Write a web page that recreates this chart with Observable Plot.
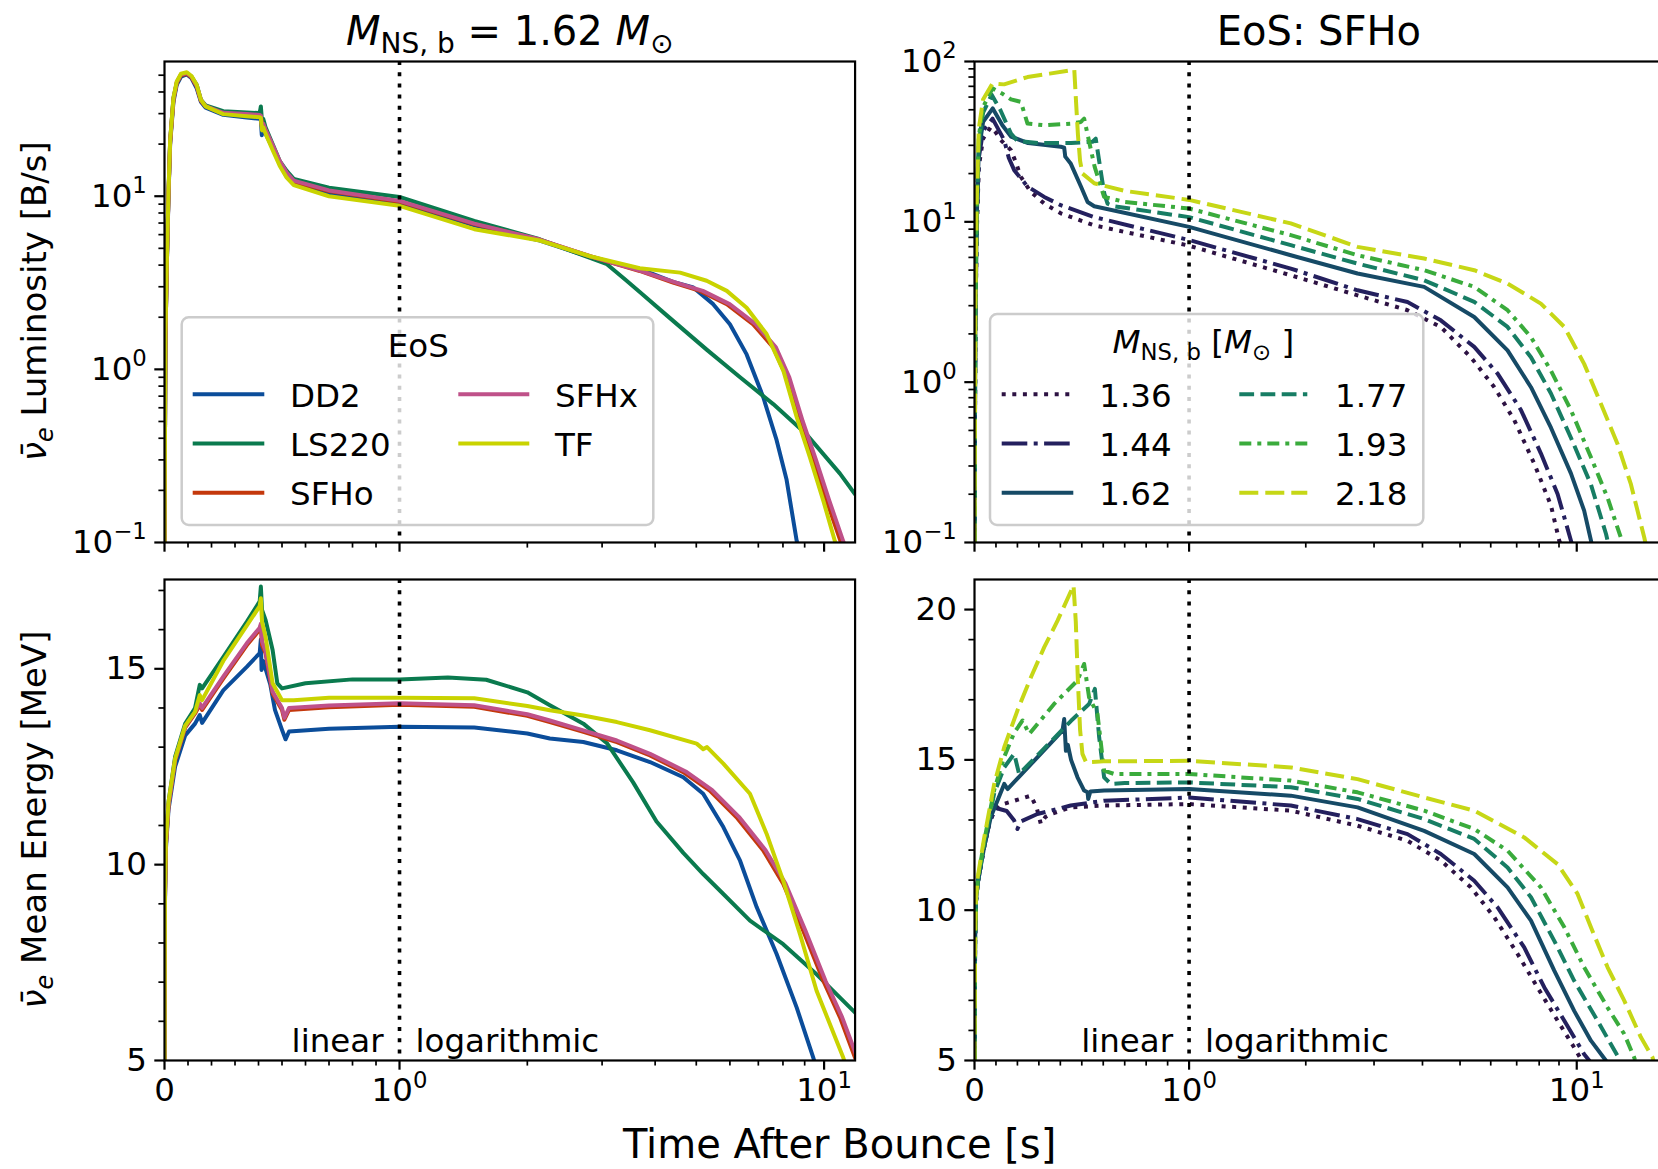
<!DOCTYPE html>
<html><head><meta charset="utf-8">
<script src="https://cdn.jsdelivr.net/npm/d3@7"></script>
<script src="https://cdn.jsdelivr.net/npm/@observablehq/plot@0.6"></script>
<style>
html,body{margin:0;padding:0;background:#fff;overflow:hidden;}
#fig{position:relative;width:1658px;height:1169px;font-family:"DejaVu Sans",sans-serif;overflow:hidden;}
#fig > svg{position:absolute;}
</style></head>
<body><div id="fig"></div>
<script>
// ---------- tick values / labels ----------
const xTickValues = [0, 1, 10];
const xTickLabels = ["0", "10⁰", "10¹"];
const xMinorTicks = [0.1,0.2,0.3,0.4,0.5,0.6,0.7,0.8,0.9,2,3,4,5,6,7,8,9];
const lumTickValues = [0.1, 1, 10, 100];
const lumTickLabels = ["10⁻¹", "10⁰", "10¹", "10²"];
const lumMinorTicks = [0.2,0.3,0.4,0.5,0.6,0.7,0.8,0.9,2,3,4,5,6,7,8,9,20,30,40,50,60,70,80,90];
const enTickValues = [5, 10, 15, 20];
const enTickLabels = ["5", "10", "15", "20"];
const enMinorTicks = [6,7,8,9,11,12,13,14,16,17,18,19];

// ---------- categories ----------
const eosNames = ["DD2", "LS220", "SFHo", "SFHx", "TF"];
const massNames = ["1.36", "1.44", "1.62", "1.77", "1.93", "2.18"];

// ---------- luminosity vs EoS [t (s), L (B/s)] ----------
const lumDD2 = [[0,0.1],[0.004,1.5],[0.01,4],[0.017,10],[0.024,20],[0.038,35],[0.052,44],[0.07,49],[0.095,50.5],[0.115,48],[0.137,42],[0.155,35],[0.175,32.5],[0.25,29.5],[0.35,28.5],[0.405,28],[0.41,27.5],[0.414,22.5],[0.42,25],[0.43,23],[0.46,19],[0.49,15.5],[0.52,13],[0.55,11.8],[0.7,10.4],[1,9.1],[1.5,6.8],[2.14,5.55],[2.81,4.45],[3.68,3.8],[4.41,3.2],[4.92,2.97],[5.48,2.38],[6.0,1.82],[6.57,1.22],[7.19,0.69],[7.73,0.39],[8.16,0.23],[8.62,0.102],[8.8,0.08]];
const lumLS220 = [[0,0.1],[0.004,1.6],[0.01,4.2],[0.017,10.5],[0.024,21],[0.038,37],[0.052,45],[0.07,50],[0.095,51],[0.115,49],[0.137,44],[0.155,36],[0.175,33.5],[0.25,31],[0.35,30.5],[0.405,30.2],[0.41,33],[0.415,27],[0.42,28],[0.43,25],[0.46,20],[0.49,16],[0.52,14],[0.55,12.6],[0.7,11.2],[1,9.9],[1.5,7.2],[2.14,5.64],[2.81,4.4],[3.08,4.05],[3.4,3.3],[3.68,2.8],[4.26,2.05],[5.29,1.3],[6.34,0.9],[7.59,0.63],[9.1,0.42],[10.9,0.25],[11.83,0.19],[12,0.18]];
const lumSFHo = [[0,0.1],[0.004,1.5],[0.01,4.1],[0.017,10.2],[0.024,20.5],[0.038,36],[0.052,45],[0.07,50],[0.095,51],[0.115,48.5],[0.137,43],[0.155,35.5],[0.175,33],[0.25,30],[0.35,29.5],[0.405,29.2],[0.41,29],[0.415,25],[0.42,26],[0.43,24],[0.46,19.5],[0.49,15.8],[0.52,13.5],[0.55,12.1],[0.7,10.7],[1,9.3],[1.5,6.9],[2.14,5.6],[2.81,4.5],[3.68,3.7],[4.41,3.17],[5.1,2.84],[5.9,2.38],[6.81,1.82],[7.59,1.34],[8.16,0.9],[8.78,0.5],[9.43,0.3],[10.14,0.174],[10.9,0.104],[11.1,0.09]];
const lumSFHx = [[0,0.1],[0.004,1.5],[0.01,4.1],[0.017,10.3],[0.024,20.7],[0.038,36.5],[0.052,45.5],[0.07,50.5],[0.095,51.5],[0.115,49],[0.137,43.5],[0.155,36],[0.175,33.2],[0.25,30.3],[0.35,29.8],[0.405,29.5],[0.41,29.2],[0.415,25.2],[0.42,26.3],[0.43,24.3],[0.46,19.8],[0.49,16],[0.52,13.7],[0.55,12.3],[0.7,10.8],[1,9.4],[1.5,6.95],[2.14,5.62],[2.81,4.5],[3.68,3.72],[4.48,3.17],[5.18,2.84],[5.99,2.38],[6.91,1.82],[7.7,1.34],[8.28,0.9],[8.91,0.5],[9.57,0.3],[10.29,0.174],[11.06,0.104],[11.3,0.09]];
const lumTF = [[0,0.1],[0.004,1.6],[0.01,4.3],[0.017,10.6],[0.024,21],[0.038,37],[0.052,46],[0.07,51],[0.095,52],[0.115,49.5],[0.137,44],[0.155,36],[0.175,33],[0.25,29.8],[0.35,29],[0.405,28.6],[0.41,28.3],[0.415,24],[0.42,25],[0.43,23],[0.46,18.5],[0.49,15],[0.52,12.8],[0.55,11.6],[0.7,10],[1,8.8],[1.5,6.45],[2.14,5.55],[2.81,4.5],[3.68,3.84],[4.58,3.62],[5.29,3.25],[5.9,2.84],[6.57,2.27],[7.32,1.6],[8.02,0.98],[8.62,0.53],[9.26,0.31],[9.96,0.174],[10.6,0.102],[10.8,0.09]];

// ---------- mean energy vs EoS [t (s), E (MeV)] ----------
const enDD2 = [[0,5],[0.002,9],[0.006,10.4],[0.017,11.4],[0.045,12.5],[0.088,13.3],[0.13,13.6],[0.15,13.82],[0.16,13.62],[0.25,14.45],[0.35,15.05],[0.405,15.4],[0.41,15.75],[0.413,14.97],[0.42,15.2],[0.45,14.6],[0.47,13.95],[0.5,13.44],[0.515,13.2],[0.53,13.4],[0.7,13.47],[1,13.52],[1.5,13.5],[2.0,13.35],[2.26,13.22],[2.71,13.13],[3.25,12.92],[3.89,12.62],[4.66,12.23],[5.19,11.81],[5.79,10.96],[6.34,10.1],[6.94,8.91],[7.73,7.72],[8.62,6.35],[9.43,5.07],[9.6,4.8]];
const enLS220 = [[0,5],[0.002,9.3],[0.006,10.6],[0.017,11.6],[0.045,12.75],[0.088,13.6],[0.13,14.0],[0.15,14.59],[0.16,14.5],[0.25,15.3],[0.35,16.2],[0.405,16.72],[0.41,17.1],[0.415,16.5],[0.43,16.25],[0.46,15.48],[0.48,14.63],[0.5,14.5],[0.6,14.63],[0.8,14.73],[1,14.73],[1.3,14.78],[1.6,14.72],[2.0,14.4],[2.26,14.07],[2.71,13.6],[3.08,13.1],[3.55,12.1],[4.03,11.1],[4.66,10.3],[5.19,9.76],[5.79,9.25],[6.69,8.57],[8.01,7.97],[9.6,7.2],[11.83,6.22],[12,6.15]];
const enSFHo = [[0,5],[0.002,9.1],[0.006,10.5],[0.017,11.5],[0.045,12.65],[0.088,13.5],[0.13,13.86],[0.15,14.08],[0.16,13.95],[0.25,14.75],[0.35,15.6],[0.405,16.0],[0.41,16.1],[0.415,15.6],[0.43,15.4],[0.46,14.37],[0.5,13.95],[0.51,13.7],[0.53,13.95],[0.7,14.02],[1,14.08],[1.5,14.03],[2,13.8],[2.26,13.64],[2.71,13.39],[3.25,13.13],[3.89,12.79],[4.66,12.36],[5.38,11.89],[6.22,11.21],[7.19,10.36],[8.01,9.51],[8.93,8.31],[9.96,7.03],[10.9,6.1],[11.83,5.07],[12,4.9]];
const enSFHx = [[0,5],[0.002,9.1],[0.006,10.5],[0.017,11.5],[0.045,12.68],[0.088,13.53],[0.13,13.9],[0.15,14.12],[0.16,14.0],[0.25,14.8],[0.35,15.65],[0.405,16.05],[0.41,16.15],[0.415,15.7],[0.43,15.45],[0.46,14.42],[0.5,14.0],[0.51,13.75],[0.53,14.0],[0.7,14.06],[1,14.12],[1.5,14.07],[2,13.84],[2.26,13.68],[2.71,13.43],[3.25,13.17],[3.89,12.83],[4.72,12.38],[5.45,11.9],[6.3,11.22],[7.28,10.37],[8.11,9.52],[9.04,8.31],[10.08,7.03],[11.03,6.1],[11.97,5.07],[12.1,4.9]];
const enTF = [[0,5],[0.002,9.2],[0.006,10.6],[0.017,11.6],[0.045,12.7],[0.088,13.55],[0.13,13.9],[0.15,14.33],[0.16,14.2],[0.25,15.2],[0.35,16.1],[0.405,16.6],[0.41,16.8],[0.415,16.2],[0.43,15.82],[0.46,14.63],[0.5,14.2],[0.55,14.2],[0.7,14.26],[1,14.26],[1.5,14.25],[2.0,14.05],[2.26,13.94],[2.71,13.81],[3.25,13.64],[3.89,13.43],[5.01,13.09],[5.19,12.95],[5.3,13.0],[5.79,12.58],[6.69,11.81],[7.32,10.79],[8.01,9.59],[8.77,8.23],[9.6,6.78],[11.1,5.07],[11.3,4.8]];

// ---------- luminosity vs mass (SFHo) ----------
const lumM136 = [[0,0.1],[0.004,2],[0.01,8],[0.02,22],[0.04,33],[0.076,39],[0.1,36],[0.122,32.4],[0.17,28],[0.19,24],[0.216,19.1],[0.26,15.5],[0.325,13],[0.402,11.3],[0.558,9.5],[1,7.1],[1.83,4.64],[2.72,3.48],[3.66,2.81],[4.46,2.21],[5.33,1.43],[6.13,0.93],[6.9,0.58],[7.77,0.31],[8.58,0.17],[9.01,0.103],[9.2,0.09]];
const lumM144 = [[0,0.1],[0.004,2],[0.01,9],[0.02,25],[0.04,37],[0.084,44],[0.11,38],[0.138,32.4],[0.16,25],[0.185,21],[0.247,16.6],[0.325,14.3],[0.402,12.7],[0.558,10.7],[1,7.7],[1.83,5.11],[2.72,3.74],[3.66,3.16],[4.46,2.43],[5.44,1.66],[6.25,1.13],[7.18,0.67],[8.08,0.36],[8.93,0.2],[9.66,0.103],[9.8,0.09]];
const lumM162 = [[0,0.1],[0.004,2.2],[0.01,10],[0.02,28],[0.04,42],[0.085,51],[0.13,40],[0.17,34],[0.25,31],[0.402,29.4],[0.418,29],[0.423,25.5],[0.449,23],[0.496,16.6],[0.527,13.3],[0.558,12.5],[1,9.3],[1.83,6.19],[2.72,4.76],[4.04,3.93],[5.44,2.55],[6.63,1.58],[7.62,0.93],[8.58,0.52],[9.66,0.27],[10.45,0.158],[10.88,0.103],[11,0.09]];
const lumM177 = [[0,0.1],[0.004,2.4],[0.01,11],[0.02,31],[0.04,48],[0.08,62],[0.12,50],[0.17,35.5],[0.2,32],[0.3,31],[0.45,31],[0.55,31.6],[0.565,33],[0.575,27],[0.59,20],[0.605,15],[0.62,13],[0.65,12.5],[1,10.7],[1.83,7.15],[2.72,5.49],[4.04,4.32],[5.44,3.17],[6.63,2.21],[7.62,1.43],[8.58,0.85],[9.66,0.45],[10.88,0.23],[11.9,0.113],[12.1,0.095]];
const lumM193 = [[0,0.1],[0.004,2.6],[0.01,12],[0.02,34],[0.04,52],[0.084,68],[0.13,63],[0.17,58],[0.216,56],[0.247,41],[0.325,40],[0.45,41],[0.496,42],[0.511,44],[0.527,35],[0.56,22],[0.604,14.3],[0.7,13.3],[1,12.1],[1.83,8.26],[2.72,6.19],[4.04,4.99],[5.44,3.93],[6.63,2.81],[7.62,1.91],[8.58,1.18],[9.66,0.67],[10.88,0.34],[12.01,0.19],[13.0,0.107],[13.2,0.095]];
const lumM218 = [[0,0.1],[0.004,2.8],[0.01,13],[0.02,38],[0.04,58],[0.084,73],[0.138,72],[0.247,80],[0.35,84],[0.465,89],[0.472,60],[0.482,35],[0.492,24],[0.503,20],[0.558,17.4],[0.7,15.6],[1,13.7],[1.83,9.78],[2.72,6.98],[4.04,5.9],[5.44,4.99],[6.63,4.12],[8.08,3.09],[9.29,2.21],[10.45,1.3],[11.55,0.73],[12.75,0.41],[13.8,0.23],[14.94,0.107],[15.1,0.095]];

// ---------- mean energy vs mass (SFHo) ----------
const enM136 = [[0,5],[0.003,9],[0.007,10.3],[0.015,10.9],[0.045,12.1],[0.07,12.9],[0.092,13.3],[0.12,13.5],[0.185,13.64],[0.263,13.81],[0.29,13.4],[0.309,12.87],[0.33,13.1],[0.356,13.2],[0.449,13.42],[0.6,13.48],[1,13.53],[1.83,13.31],[2.72,12.81],[3.66,12.31],[4.46,11.65],[5.33,10.76],[6.13,9.76],[7.04,8.54],[7.92,7.43],[8.93,6.32],[9.85,5.43],[10.25,5.05],[10.4,4.8]];
const enM144 = [[0,5],[0.003,9],[0.007,10.3],[0.015,10.9],[0.045,12.1],[0.07,12.95],[0.1,13.4],[0.15,13.3],[0.185,12.98],[0.2,12.7],[0.215,12.95],[0.293,13.2],[0.448,13.48],[0.604,13.64],[1,13.75],[1.83,13.48],[2.72,13.03],[3.66,12.53],[4.46,11.87],[5.44,10.98],[6.25,10.09],[7.32,8.76],[8.25,7.43],[9.29,6.32],[10.45,5.21],[10.77,5.0],[10.9,4.8]];
const enM162 = [[0,5],[0.003,9],[0.007,10.3],[0.015,10.9],[0.045,12.1],[0.076,13.1],[0.1385,14.2],[0.154,14.03],[0.41,15.97],[0.418,16.36],[0.426,15.3],[0.435,15.5],[0.45,15.0],[0.48,14.42],[0.511,13.98],[0.527,13.92],[0.53,13.7],[0.54,13.95],[0.604,13.98],[1,14.03],[1.83,13.81],[2.72,13.42],[4.04,12.64],[5.44,11.87],[6.63,10.76],[7.62,9.65],[8.75,7.99],[9.85,6.65],[10.88,5.66],[11.9,4.99],[12.1,4.8]];
const enM177 = [[0,5],[0.003,9],[0.007,10.3],[0.015,10.9],[0.045,12.2],[0.092,13.9],[0.1385,14.75],[0.185,15.2],[0.208,14.53],[0.3,15.2],[0.45,16.3],[0.534,16.86],[0.561,17.36],[0.581,15.75],[0.604,14.42],[0.635,14.2],[0.7,14.23],[1,14.25],[1.83,14.09],[2.72,13.7],[4.04,13.03],[5.44,12.37],[6.63,11.42],[7.62,10.43],[8.75,8.98],[9.85,7.65],[11.32,6.32],[12.25,5.54],[12.88,5.05],[13.1,4.8]];
const enM193 = [[0,5],[0.003,9],[0.007,10.3],[0.015,11.0],[0.045,12.3],[0.092,14.0],[0.1385,15.1],[0.185,15.9],[0.224,16.31],[0.255,15.86],[0.371,16.86],[0.48,17.64],[0.511,18.19],[0.534,17.08],[0.573,16.53],[0.604,14.64],[0.651,14.53],[1,14.53],[1.83,14.31],[2.72,13.92],[4.04,13.31],[5.44,12.7],[6.63,11.98],[8.08,10.76],[9.29,9.43],[10.45,8.1],[12.01,6.76],[13.26,5.88],[14.07,5.1],[14.3,4.8]];
const enM218 = [[0,5],[0.003,9],[0.007,10.4],[0.015,11.1],[0.045,12.4],[0.092,14.2],[0.1385,15.42],[0.2,16.64],[0.263,17.75],[0.325,18.75],[0.387,19.63],[0.4615,20.8],[0.472,19.6],[0.482,17.6],[0.492,16.0],[0.503,15.2],[0.52,14.92],[0.6,14.95],[1,14.97],[1.83,14.75],[2.72,14.36],[4.04,13.75],[5.44,13.31],[7.32,12.42],[8.93,11.53],[10.05,10.54],[10.88,9.43],[12.01,8.1],[13.26,6.99],[14.64,5.77],[15.69,5.1],[15.9,4.8]];

// ---------- styles ----------
const eosColors = ["#0b4d9a", "#0a7a4e", "#c4380c", "#bf5189", "#c9d300"];
const massColors = ["#2d1243", "#24205e", "#164a66", "#177d64", "#3aab3c", "#c6d716"];
const massDashes = ["4,6.6", "25.6,6.4,4,6.4", undefined, "14.8,6.4", "12,6,4,6", "19,7"];
const LW = 4;

const lumEoS = [lumDD2, lumLS220, lumSFHo, lumSFHx, lumTF];
const enEoS = [enDD2, enLS220, enSFHo, enSFHx, enTF];
const lumMass = [lumM136, lumM144, lumM162, lumM177, lumM193, lumM218];
const enMass = [enM136, enM144, enM162, enM177, enM193, enM218];

// linear (0..1) then logarithmic axis
const LIN = 0.5535;
const T = t => (t <= 1 ? LIN * t : LIN + Math.log10(t));

const fig = document.getElementById("fig");
const FW = 690.6, FH = 481;
const FS = 32.5;
const supMap = {"⁻": "−", "⁰": "0", "¹": "1", "²": "2"};

function fixSuperscripts(svg) {
  svg.querySelectorAll("text").forEach(el => {
    const m = (el.textContent || "").match(/^10([⁻⁰¹²]+)$/);
    if (!m) return;
    const exp = [...m[1]].map(c => supMap[c]).join("");
    while (el.firstChild) el.removeChild(el.firstChild);
    el.appendChild(document.createTextNode("10"));
    const ts = document.createElementNS("http://www.w3.org/2000/svg", "tspan");
    ts.setAttribute("font-size", "0.7em");
    ts.setAttribute("dy", "-0.6em");
    ts.textContent = exp;
    el.appendChild(ts);
  });
}

function makePanel(cfg) {
  const mL = 120, mR = 10, mT = 10, mB = cfg.xLabels ? 70 : 18;
  const [lo, hi] = cfg.yDomain;
  const xHi = T(cfg.xMax);
  const inY = v => v >= lo - 1e-9 && v <= hi + 1e-9;
  const marks = [];
  cfg.series.forEach(s => {
    marks.push(Plot.line(s.data, {
      x: d => T(d[0]), y: d => d[1], stroke: s.color, strokeWidth: LW,
      strokeDasharray: s.dash, strokeLinecap: "butt", strokeLinejoin: "round", clip: true
    }));
  });
  marks.push(Plot.ruleX([1], {x: d => T(d), stroke: "black", strokeWidth: 3.6, strokeDasharray: "4,7.2"}));
  if (cfg.xLabels) {
    marks.push(Plot.text([1], {x: d => T(d), frameAnchor: "bottom", dy: -8.5, dx: -16, textAnchor: "end", text: () => "linear", fontSize: FS, fill: "black"}));
    marks.push(Plot.text([1], {x: d => T(d), frameAnchor: "bottom", dy: -8.5, dx: 16, textAnchor: "start", text: () => "logarithmic", fontSize: FS, fill: "black"}));
  }
  const xMaj = xTickValues.filter(t => T(t) <= xHi + 1e-9);
  const xMin = xMinorTicks.filter(t => T(t) <= xHi + 1e-9);
  marks.push(Plot.axisX(xMaj.map(T), {
    anchor: "bottom", tickSize: 9.7, tickPadding: 8, strokeWidth: 2.2, fontSize: FS, label: null,
    tickFormat: v => cfg.xLabels ? xTickLabels[xTickValues.findIndex(t => Math.abs(T(t) - v) < 1e-9)] : ""
  }));
  marks.push(Plot.axisX(xMin.map(T), {anchor: "bottom", tickSize: 5.6, strokeWidth: 1.7, label: null, tickFormat: () => ""}));
  const yMajIdx = cfg.yTicks.map((v, i) => i).filter(i => inY(cfg.yTicks[i]));
  marks.push(Plot.axisY(yMajIdx.map(i => cfg.yTicks[i]), {
    anchor: "left", tickSize: 9.7, tickPadding: 8, strokeWidth: 2.2, fontSize: FS, label: null,
    tickFormat: v => cfg.yLabels[cfg.yTicks.indexOf(v)]
  }));
  marks.push(Plot.axisY(cfg.yMinor.filter(v => inY(v) && v < hi - 1e-9), {anchor: "left", tickSize: 5.6, strokeWidth: 1.7, label: null, tickFormat: () => ""}));
  marks.push(Plot.frame({stroke: "black", strokeWidth: 2.2}));

  const svg = Plot.plot({
    width: mL + FW + mR, height: mT + FH + mB,
    marginLeft: mL, marginRight: mR, marginTop: mT, marginBottom: mB,
    x: {type: "linear", domain: [0, xHi]},
    y: {type: cfg.yType, domain: cfg.yDomain},
    style: {background: "transparent", overflow: "visible", color: "black", fontFamily: "DejaVu Sans, sans-serif", fontSize: FS + "px"},
    marks
  });
  fixSuperscripts(svg);
  svg.style.position = "absolute";
  svg.style.left = (cfg.left - mL) + "px";
  svg.style.top = (cfg.top - mT) + "px";
  svg.style.maxWidth = "none";
  fig.appendChild(svg);
}

const eosSeries = arr => arr.map((d, i) => ({data: d, color: eosColors[i], dash: undefined}));
const massSeries = arr => arr.map((d, i) => ({data: d, color: massColors[i], dash: massDashes[i]}));

makePanel({left: 164.4, top: 60.7, xMax: 11.83, yType: "log", yDomain: [0.1, 60], series: eosSeries(lumEoS), yTicks: lumTickValues, yLabels: lumTickLabels, yMinor: lumMinorTicks, xLabels: false});
makePanel({left: 973.6, top: 60.7, xMax: 16.9, yType: "log", yDomain: [0.1, 100], series: massSeries(lumMass), yTicks: lumTickValues, yLabels: lumTickLabels, yMinor: lumMinorTicks, xLabels: false});
makePanel({left: 164.4, top: 579, xMax: 11.83, yType: "linear", yDomain: [5, 17.28], series: eosSeries(enEoS), yTicks: enTickValues, yLabels: enTickLabels, yMinor: enMinorTicks, xLabels: true});
makePanel({left: 973.6, top: 579, xMax: 16.9, yType: "linear", yDomain: [5, 21], series: massSeries(enMass), yTicks: enTickValues, yLabels: enTickLabels, yMinor: enMinorTicks, xLabels: true});

// ---------- overlay: titles, labels, legends ----------
const ov = d3.select(fig).append("svg")
  .attr("width", 1658).attr("height", 1169)
  .style("position", "absolute").style("left", "0px").style("top", "0px")
  .style("pointer-events", "none")
  .attr("font-family", "DejaVu Sans, sans-serif").attr("fill", "black");

function mathM(sel, size, sub) {
  sel.append("tspan").attr("font-style", "italic").text("M");
  sel.append("tspan").attr("font-size", size * 0.7).attr("dy", size * 0.2).text(sub);
}

// left title
{
  const t = ov.append("text").attr("x", 509.7).attr("y", 45).attr("text-anchor", "middle").attr("font-size", 40);
  mathM(t, 40, "NS, b");
  t.append("tspan").attr("dy", -8).text(" = 1.62 ");
  mathM(t, 40, "⊙");
}
ov.append("text").attr("x", 1318.9).attr("y", 45).attr("text-anchor", "middle").attr("font-size", 40).text("EoS: SFHo");
ov.append("text").attr("x", 839.6).attr("y", 1158).attr("text-anchor", "middle").attr("font-size", 40).text("Time After Bounce [s]");

function ylabel(cy, rest) {
  const t = ov.append("text").attr("transform", `translate(46,${cy}) rotate(-90)`).attr("text-anchor", "middle").attr("font-size", 34);
  t.append("tspan").attr("font-style", "italic").text("ν̄");
  t.append("tspan").attr("font-style", "italic").attr("font-size", 24).attr("dy", 7).text("e");
  t.append("tspan").attr("dy", -7).text(" " + rest);
}
ylabel(301.2, "Luminosity [B/s]");
ylabel(819.5, "Mean Energy [MeV]");

function legend(box, titleFn, cols, entries) {
  ov.append("rect").attr("x", box.x).attr("y", box.y).attr("width", box.w).attr("height", box.h)
    .attr("rx", 7).attr("fill", "white").attr("fill-opacity", 0.8).attr("stroke", "#cccccc").attr("stroke-width", 2.5);
  titleFn();
  entries.forEach((e, i) => {
    const c = cols[Math.floor(i / 3)], r = i % 3;
    ov.append("line").attr("x1", c.x1).attr("x2", c.x2).attr("y1", 394.3 + 49.2 * r).attr("y2", 394.3 + 49.2 * r)
      .attr("stroke", e.color).attr("stroke-width", LW).attr("stroke-dasharray", e.dash || null);
    ov.append("text").attr("x", c.tx).attr("y", 406.7 + 49.2 * r).attr("font-size", FS).text(e.name);
  });
}
legend({x: 181.7, y: 317.3, w: 471.6, h: 207.7},
  () => ov.append("text").attr("x", 418.3).attr("y", 356.7).attr("text-anchor", "middle").attr("font-size", FS).text("EoS"),
  [{x1: 192.7, x2: 264.3, tx: 290}, {x1: 458.3, x2: 529.3, tx: 555}],
  eosNames.map((n, i) => ({name: n, color: eosColors[i]})));
legend({x: 990, y: 314, w: 433.3, h: 211},
  () => {
    const t = ov.append("text").attr("x", 1203.3).attr("y", 353.3).attr("text-anchor", "middle").attr("font-size", FS);
    mathM(t, FS, "NS, b");
    t.append("tspan").attr("dy", -FS * 0.2).text(" [");
    mathM(t, FS, "⊙");
    t.append("tspan").attr("dy", -FS * 0.2).text(" ]");
  },
  [{x1: 1001.7, x2: 1073.3, tx: 1099.3}, {x1: 1239.3, x2: 1307.3, tx: 1335}],
  massNames.map((n, i) => ({name: n, color: massColors[i], dash: massDashes[i]})));
</script></body></html>
